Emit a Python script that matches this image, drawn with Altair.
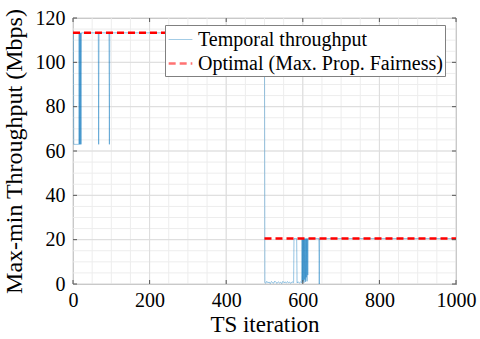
import altair as alt
import pandas as pd

# ---- data ----
tp_x = [1, 2, 15, 16, 17, 18, 19, 20, 21, 22, 66, 67, 68, 94, 95, 96, 500,
        501, 503, 506, 509, 512, 515, 518, 521, 524, 527, 530, 533, 536, 539,
        542, 545, 548, 551, 554, 557, 560, 563, 566, 569, 572, 575, 576,
        577, 584, 585, 588, 591, 594, 597, 598, 599, 600, 601, 602, 603, 604,
        605, 606, 607, 608, 609, 610, 611, 612, 613, 614, 642, 643, 644, 1000]
tp_y = [113.3, 63, 63, 113.3, 63, 113.3, 63, 113.3, 63, 113.3, 113.3, 63, 113.3, 113.3, 63, 113.3, 113.3,
        0.8, 0.3, 1.2, 0.5, 0.9, 0.2, 1.1, 0.6, 0.4, 1.3, 0.7, 0.3, 1.0, 0.5,
        0.8, 0.2, 1.2, 0.6, 0.9, 0.4, 1.1, 0.5, 0.8, 0.3, 1.0, 0.6, 0.6,
        20.5, 20.5, 0.5, 1.0, 0.4, 0.9, 0.5, 20.5, 0.8, 20.5, 1.5, 20.5, 0.6, 20.5,
        2.0, 20.5, 1.0, 20.5, 3.0, 20.5, 1.2, 20.5, 4.0, 20.5, 20.5, 0.0, 20.5, 20.5]

opt_x = [0, 500, 500, 1000]
opt_y = [113.3, 113.3, 20.5, 20.5]
opt_seg = [0, 0, 1, 1]

x_major = [0, 200, 400, 600, 800, 1000]
y_major = [0, 20, 40, 60, 80, 100, 120]
x_minor = list(range(0, 1001, 50))
y_minor = list(range(0, 121, 5))

names = ["Temporal throughput", "Optimal (Max. Prop. Fairness)"]

W, H = 383, 266
FONT = "Liberation Serif"

tp = pd.DataFrame({"x": tp_x, "y": tp_y, "series": names[0], "seg": 0})
opt = pd.DataFrame({"x": opt_x, "y": opt_y, "series": names[1], "seg": opt_seg})

xs = alt.Scale(domain=[0, 1000], nice=False, zero=False)
ys = alt.Scale(domain=[0, 120], nice=False)

x_axis = alt.Axis(values=x_major, title="TS iteration", labelPadding=6, titlePadding=3,
                  grid=False, ticks=False, domain=False, format="d",
                  labelFlush=False, labelOverlap=False, titleFontSize=23)
y_axis = alt.Axis(values=y_major, title="Max-min Throughput (Mbps)", labelPadding=8,
                  titlePadding=9, grid=False, ticks=False, domain=False, format="d",
                  labelFlush=False, labelOverlap=False)


def X(f):
    return alt.X(f, scale=xs, axis=x_axis)


def Y(f):
    return alt.Y(f, scale=ys, axis=y_axis)


color = alt.Color("series:N", scale=alt.Scale(domain=names, range=["#0072BD", "#FF0000"]),
                  legend=alt.Legend(title=None))
dash = alt.StrokeDash("series:N", scale=alt.Scale(domain=names, range=[[1, 0], [7, 4]]),
                      legend=alt.Legend(title=None))
swidth = alt.StrokeWidth("series:N", scale=alt.Scale(domain=names, range=[0.8, 2.5]),
                         legend=alt.Legend(title=None))

gx_minor = alt.Chart(pd.DataFrame({"v": x_minor})).mark_rule(color="#ededed", strokeWidth=1).encode(
    x=X("v:Q"))
gy_minor = alt.Chart(pd.DataFrame({"v": y_minor})).mark_rule(color="#ededed", strokeWidth=1).encode(
    y=Y("v:Q"))
gx_major = alt.Chart(pd.DataFrame({"v": x_major})).mark_rule(color="#dcdcdc", strokeWidth=1).encode(
    x=X("v:Q"))
gy_major = alt.Chart(pd.DataFrame({"v": y_major})).mark_rule(color="#dcdcdc", strokeWidth=1).encode(
    y=Y("v:Q"))

# inward ticks on all four sides
tk = "#555555"
tb = alt.Chart(pd.DataFrame({"v": x_major})).mark_rule(color=tk).encode(
    x=X("v:Q"), y=alt.value(H), y2=alt.value(H - 4))
tt = alt.Chart(pd.DataFrame({"v": x_major})).mark_rule(color=tk).encode(
    x=X("v:Q"), y=alt.value(0), y2=alt.value(4))
tl = alt.Chart(pd.DataFrame({"v": y_major})).mark_rule(color=tk).encode(
    y=Y("v:Q"), x=alt.value(0), x2=alt.value(4))
tr = alt.Chart(pd.DataFrame({"v": y_major})).mark_rule(color=tk).encode(
    y=Y("v:Q"), x=alt.value(W), x2=alt.value(W - 4))

line_tp = alt.Chart(tp).mark_line(opacity=0.55, clip=True).encode(
    x=X("x:Q"), y=Y("y:Q"),
    color=color, strokeDash=dash, strokeWidth=swidth, detail="seg:N",
    order="x:Q")
line_opt = alt.Chart(opt).mark_line(clip=True).encode(
    x=X("x:Q"), y=Y("y:Q"),
    color=color, strokeDash=dash, strokeWidth=swidth, detail="seg:N",
    order="x:Q")

chart = alt.layer(gx_minor, gy_minor, gx_major, gy_major, line_tp, line_opt,
                  tb, tt, tl, tr).properties(
    width=W, height=H,
    autosize=alt.AutoSizeParams(type="none"),
    padding={"left": 73, "top": 18, "right": 24, "bottom": 55},
).configure(font=FONT).configure_view(stroke="#808080", strokeWidth=1).configure_axis(
    labelFont=FONT, titleFont=FONT, labelFontSize=20, titleFontSize=24,
    labelColor="#000000", titleColor="#000000", titleFontWeight="normal",
).configure_legend(
    orient="none", legendX=92, legendY=7, labelFont=FONT, labelFontSize=20,
    labelColor="#000000", symbolType="stroke", symbolSize=560,
    fillColor="#ffffff", strokeColor="#808080", padding=2, rowPadding=0,
    labelOffset=4, cornerRadius=0, labelLimit=400,
)

chart.save("out.html", embed_options={"renderer": "svg", "actions": False})
